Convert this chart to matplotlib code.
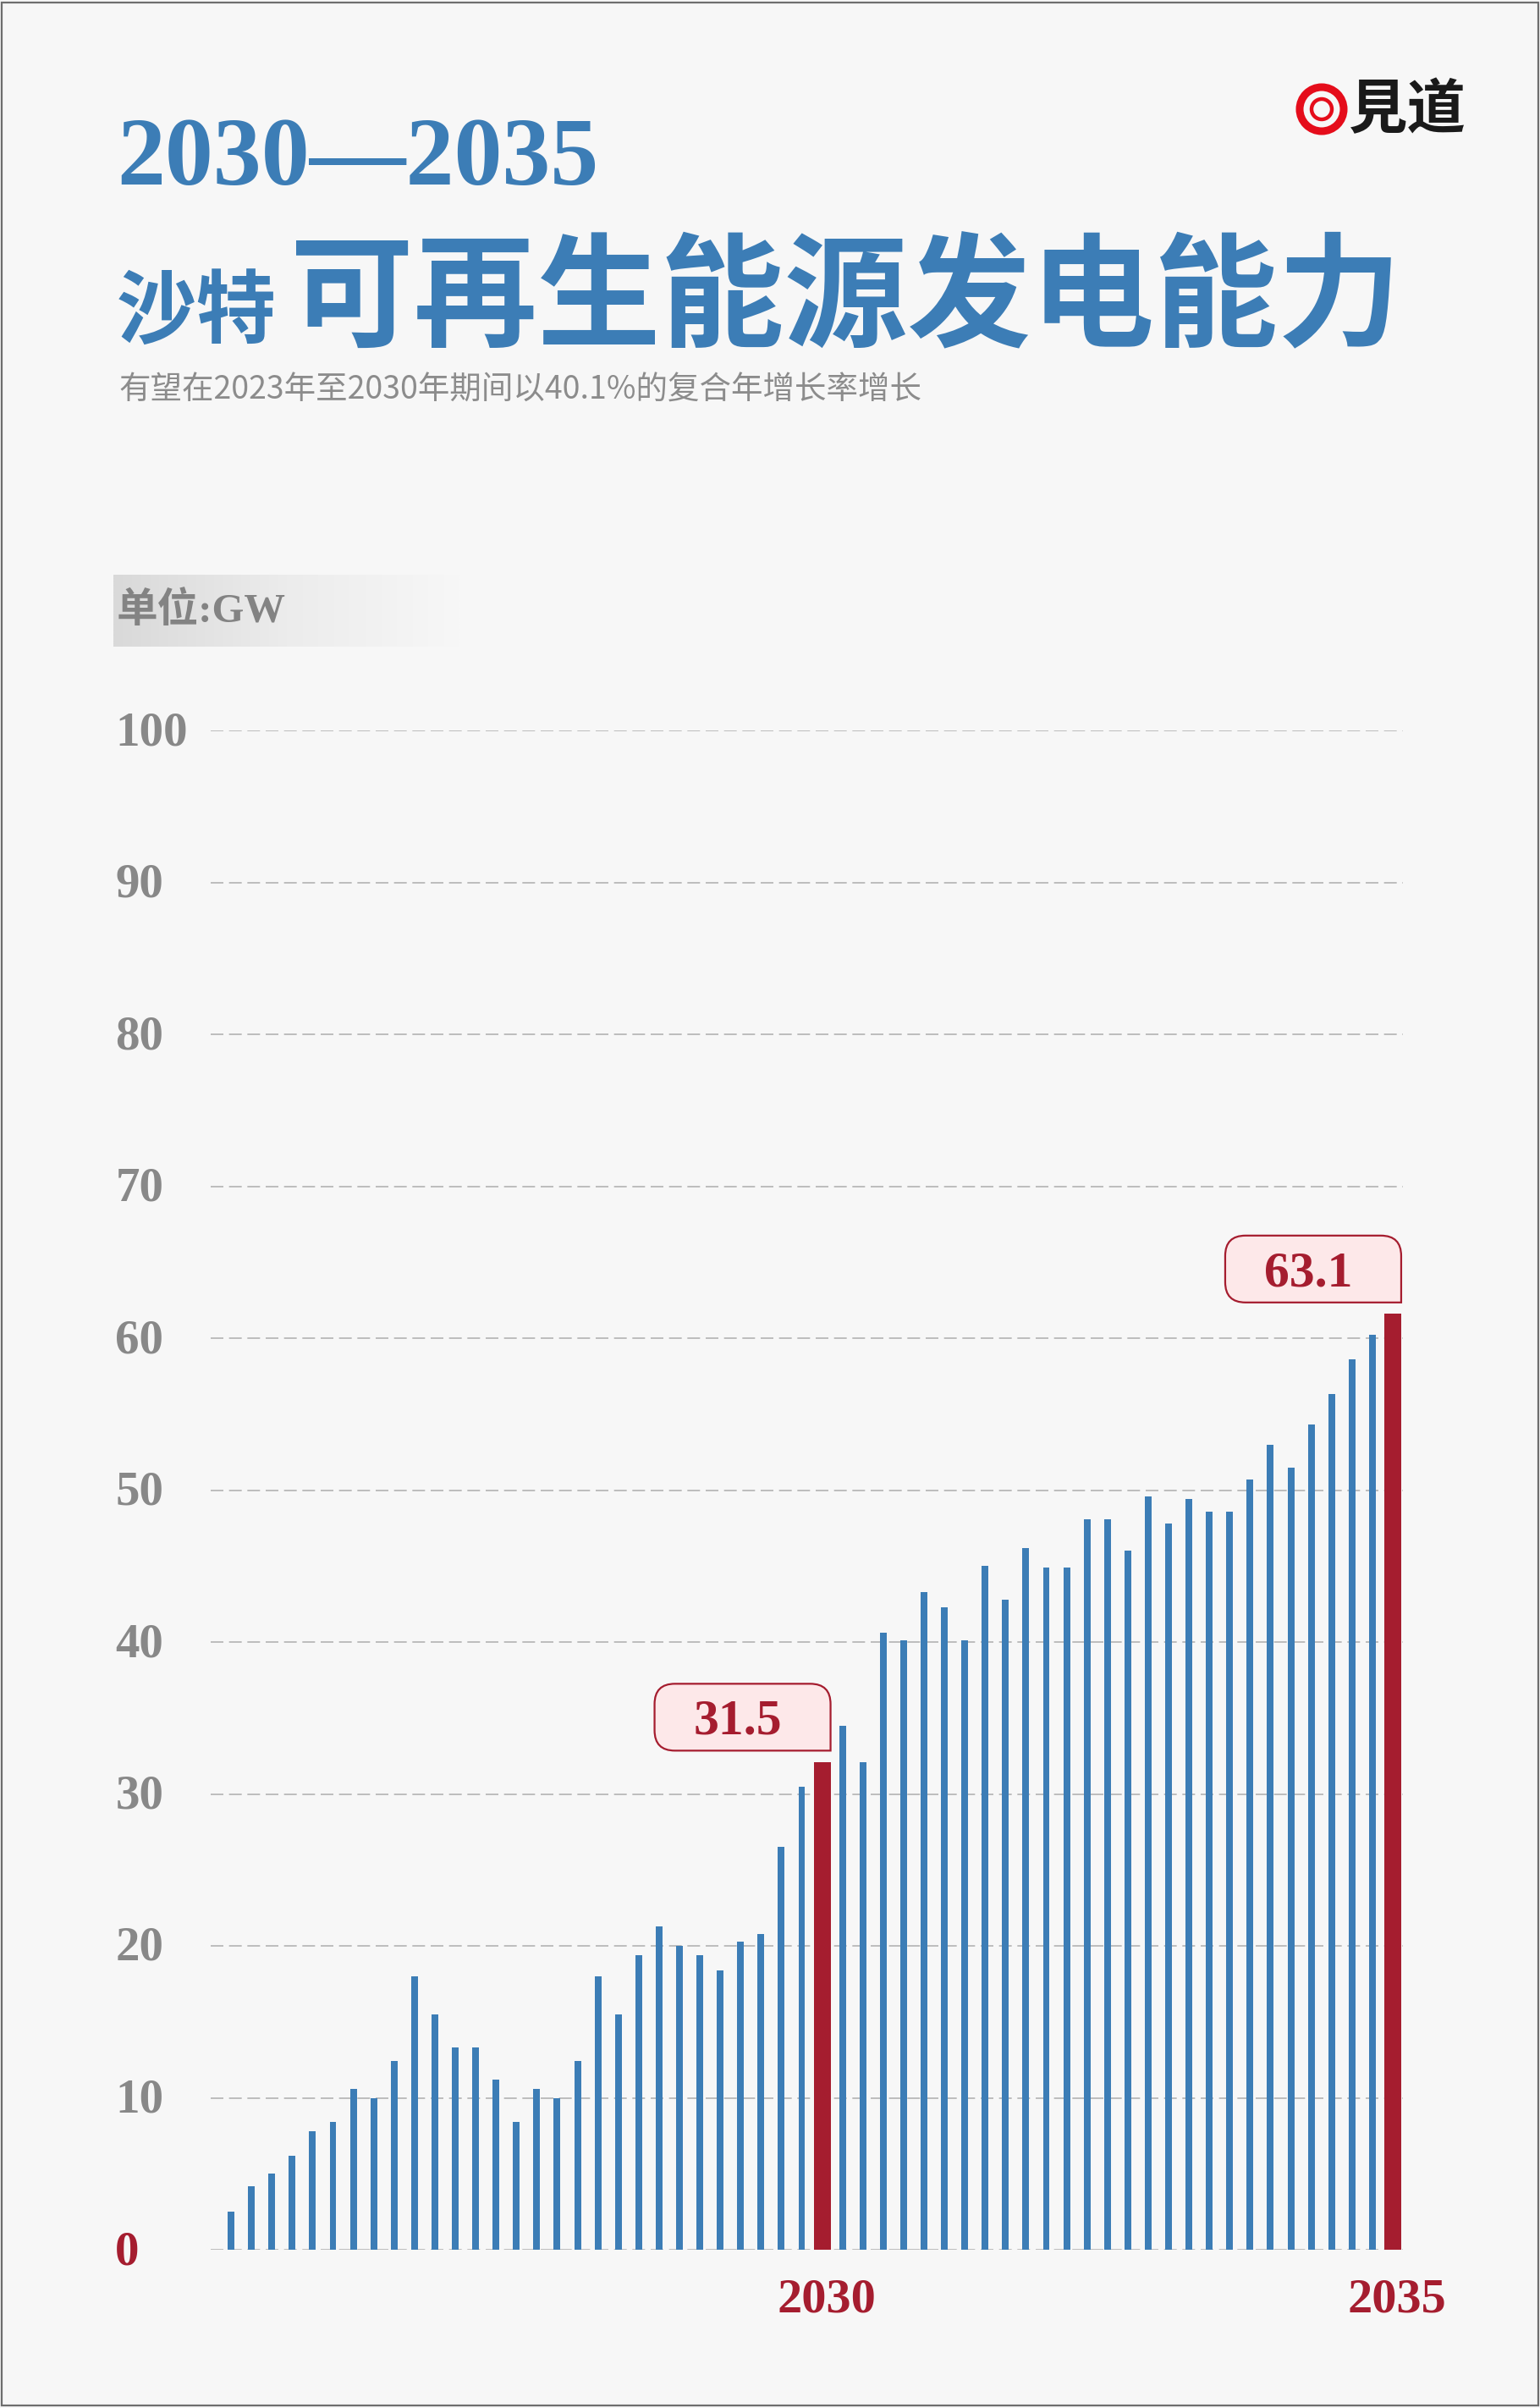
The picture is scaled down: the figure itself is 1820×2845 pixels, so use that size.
import numpy as np
import matplotlib
matplotlib.use("Agg")
import matplotlib.pyplot as plt
from matplotlib.path import Path
from matplotlib.patches import PathPatch, Circle, Rectangle
from matplotlib.transforms import Affine2D, ScaledTranslation, IdentityTransform
from matplotlib.colors import LinearSegmentedColormap

# chart data (GW)
capacity = [2.5, 4.2, 5.0, 6.2, 7.8, 8.4, 10.6, 10.0, 12.4, 18.0,
            15.5, 13.3, 13.3, 11.2, 8.4, 10.6, 10.0, 12.4, 18.0, 15.5,
            19.4, 21.3, 20.0, 19.4, 18.4, 20.3, 20.8, 26.5, 30.5, 32.1,
            34.5, 32.1, 40.6, 40.1, 43.3, 42.3, 40.1, 45.0, 42.8, 46.2,
            44.9, 44.9, 48.1, 48.1, 46.0, 49.6, 47.8, 49.4, 48.6, 48.6,
            50.7, 53.0, 51.5, 54.3, 56.3, 58.6, 60.2, 61.6]
highlight_idx = [29, 57]
highlight_years = ["2030", "2035"]
highlight_tags = ["31.5", "63.1"]
y_ticks = [0, 10, 20, 30, 40, 50, 60, 70, 80, 90, 100]

title_years = "2030—2035"
title_small = "沙特"
title_big = "可再生能源发电能力"
subtitle = "有望在2023年至2030年期间以40.1%的复合年增长率增长"
unit_label = "单位:GW"
logo_text = "見道"

BG = "#f7f7f7"
BLUE = "#3c7db6"
RED = "#a51d2f"
GRAY = "#888888"
W, H = 1820, 2845
CJK = ["Noto Sans CJK SC", "DejaVu Sans"]
SERIF = ["Liberation Serif", "DejaVu Serif"]
SERIF_CJK = ["Liberation Serif", "Noto Sans CJK SC"]

fig = plt.figure(figsize=(W / 100, H / 100), dpi=100, facecolor=BG)


def fx(x):
    return x / W


def fy(y):
    return 1 - y / H


# frame around the poster
fig.patches.append(Rectangle((0.001, 0.001), 0.998, 0.998, transform=fig.transFigure,
                             fill=False, edgecolor="#6e6e6e", linewidth=1.6))

# titles
fig.text(fx(138), fy(218), title_years, fontsize=82, family=SERIF, weight="bold",
         color=BLUE, va="baseline")
fig.text(fx(138), fy(398), title_small, fontsize=68, family=CJK, weight="bold",
         color=BLUE, va="baseline")
fig.text(fx(343), fy(398), title_big, fontsize=105, family=CJK, weight="bold",
         color=BLUE, va="baseline")
fig.text(fx(140), fy(461), subtitle, fontsize=27, family=CJK, color="#8c8c8c",
         va="center")

# logo
for r, lw in [(26, 6.5), (12, 3.2)]:
    fig.patches.append(Circle((1562, H - 129), r, transform=IdentityTransform(),
                              fill=False, edgecolor="#e50d1b", linewidth=lw))
fig.text(fx(1594), fy(131), logo_text, fontsize=50, family=CJK, weight="bold",
         color="#1a1a1a", va="center")

# unit label on a fading strip
gax = fig.add_axes([fx(134), fy(764), fx(544 - 134), 85 / H])
fade = LinearSegmentedColormap.from_list("fade", ["#d9d9d9", "#ececec", BG])
gax.imshow(np.linspace(0, 1, 256)[None, :], aspect="auto", cmap=fade)
gax.axis("off")
fig.text(fx(138), fy(722), unit_label, fontsize=35, family=SERIF_CJK, weight="bold",
         color="#838383", va="center")

# main chart
ax = fig.add_axes([fx(249), fy(2658), fx(1658 - 249), (2658 - 863) / H])
ax.set_facecolor("none")
ax.set_xlim(-1.0, 57.5)
ax.set_ylim(0, 100)
ax.axis("off")

for v in y_ticks:
    ax.axhline(v, color="#b3b3b3", linewidth=1.2, linestyle=(0, (9, 4)), zorder=1)
    ax.annotate(str(v), xy=(-0.08, v), xycoords=ax.get_yaxis_transform(),
                xytext=(0, -17), textcoords="offset pixels", ha="left", va="baseline",
                fontsize=41, family=SERIF, weight="bold",
                color=RED if v == 0 else GRAY, annotation_clip=False)

idx = np.arange(len(capacity))
widths = [0.83 if i in highlight_idx else 0.33 for i in idx]
colors = [RED if i in highlight_idx else BLUE for i in idx]
ax.bar(idx, capacity, width=widths, color=colors, zorder=3)


def tag_path(w, h, r):
    verts = [(-w + r, 0), (0, 0), (0, h - r), (0, h), (-r, h), (-w + r, h),
             (-w, h), (-w, h - r), (-w, r), (-w, 0), (-w + r, 0), (-w + r, 0)]
    codes = [Path.MOVETO, Path.LINETO, Path.LINETO, Path.CURVE3, Path.CURVE3,
             Path.LINETO, Path.CURVE3, Path.CURVE3, Path.LINETO, Path.CURVE3,
             Path.CURVE3, Path.CLOSEPOLY]
    return Path(verts, codes)


for i, year, tag in zip(highlight_idx, highlight_years, highlight_tags):
    xr = i + 0.83 / 2
    yb = capacity[i] + 0.75
    w, h = 208, 79
    trans = Affine2D() + ScaledTranslation(xr, yb, ax.transData)
    ax.add_patch(PathPatch(tag_path(w, h, 24), transform=trans, facecolor="#fde8e9",
                           edgecolor=RED, linewidth=1.6, zorder=4, clip_on=False))
    ax.annotate(tag, xy=(xr, yb), xycoords="data", xytext=(-w / 2 - 6, h / 2 - 20),
                textcoords="offset pixels", ha="center", va="baseline", fontsize=43,
                family=SERIF, weight="bold", color=RED, zorder=5, annotation_clip=False)
    ax.annotate(year, xy=(i, 0), xycoords="data", xytext=(5, -73),
                textcoords="offset pixels", ha="center", va="baseline", fontsize=42,
                family=SERIF, weight="bold", color=RED, annotation_clip=False)

fig.savefig("out.png", dpi=100, facecolor=BG)
